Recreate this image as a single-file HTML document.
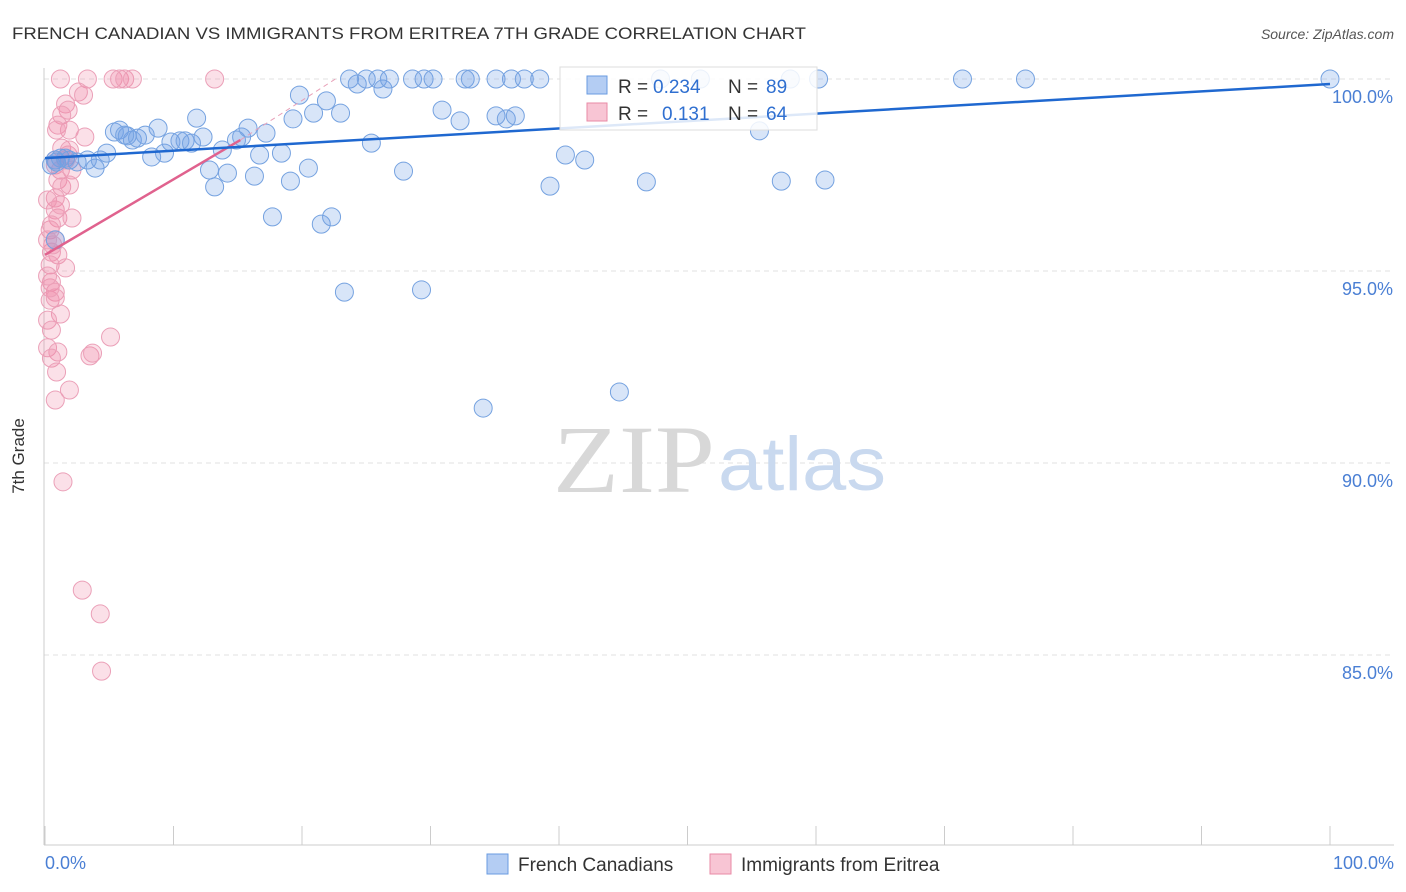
<!DOCTYPE html>
<html><head><meta charset="utf-8"><style>
body{margin:0;background:#fff;font-family:"Liberation Sans",sans-serif;}
svg{display:block}
</style></head><body>
<svg id="chart" width="1406" height="892">
<text x="12" y="39" font-size="17" fill="#333" textLength="794" lengthAdjust="spacingAndGlyphs">FRENCH CANADIAN VS IMMIGRANTS FROM ERITREA 7TH GRADE CORRELATION CHART</text>
<text x="1394" y="39" font-size="14" fill="#555" font-style="italic" text-anchor="end">Source: ZipAtlas.com</text>
<g id="grid"></g>
<g>
<text x="553" y="492" font-size="96" font-family="Liberation Serif,serif" fill="#d8d8d8" textLength="162" lengthAdjust="spacingAndGlyphs">ZIP</text>
<text x="718" y="490" font-size="76" fill="#c9d9ef" textLength="168" lengthAdjust="spacingAndGlyphs">atlas</text>
</g>
<line x1="44" y1="68" x2="44" y2="845" stroke="#ccc"/>
<line x1="44" y1="845" x2="1394" y2="845" stroke="#ccc"/>
<text x="24" y="456" font-size="17" fill="#333" text-anchor="middle" transform="rotate(-90 24 456)">7th Grade</text>
<text x="45" y="869" font-size="18" fill="#4a7fd4">0.0%</text>
<text x="1394" y="869" font-size="18" fill="#4a7fd4" text-anchor="end">100.0%</text>
<g id="marks"></g>
<g>
<rect x="560" y="67" width="257" height="63" fill="#fff" fill-opacity="0.85" stroke="#ddd"/>
<rect x="587" y="76" width="20" height="18" fill="#b4cdf3" stroke="#6a9be0"/>
<text x="618" y="93" font-size="19" fill="#333">R = </text><text x="653" y="93" font-size="19" fill="#2f6fd0">0.234</text>
<text x="728" y="93" font-size="19" fill="#333">N = </text><text x="766" y="93" font-size="19" fill="#2f6fd0">89</text>
<rect x="587" y="103" width="20" height="18" fill="#f8c5d4" stroke="#e88aa6"/>
<text x="618" y="120" font-size="19" fill="#333">R = </text><text x="662" y="120" font-size="19" fill="#2f6fd0">0.131</text>
<text x="728" y="120" font-size="19" fill="#333">N = </text><text x="766" y="120" font-size="19" fill="#2f6fd0">64</text>
</g>
<g>
<rect x="487" y="854" width="21" height="20" fill="#b4cdf3" stroke="#6a9be0"/>
<text x="518" y="871" font-size="19" fill="#333">French Canadians</text>
<rect x="710" y="854" width="21" height="20" fill="#f8c5d4" stroke="#e88aa6"/>
<text x="741" y="871" font-size="19" fill="#333">Immigrants from Eritrea</text>
</g>
</svg>
<script>
const yTicks=[100,95,90,85];
const yTickLabels=["100.0%","95.0%","90.0%","85.0%"];
const xTicks=[0,10,20,30,40,50,60,70,80,90,100];
const blueX=[0.5,0.8,1.2,1.9,2.5,3.3,3.9,4.3,4.8,5.4,5.8,6.4,6.8,7.2,7.8,8.3,8.8,9.3,9.8,10.5,10.9,11.4,11.8,12.3,12.8,13.2,13.8,14.2,14.9,15.3,15.8,16.3,16.7,17.2,17.7,18.4,19.1,19.3,19.8,20.5,20.9,21.5,21.9,22.3,23.0,23.3,23.7,24.3,25.0,25.4,25.9,26.3,26.8,27.9,28.6,29.5,30.2,30.9,32.3,32.7,33.1,34.1,35.1,35.1,35.9,36.3,36.6,37.3,38.5,39.3,40.5,42.0,44.7,46.8,47.9,51.0,55.6,57.3,58.0,60.2,60.7,71.4,76.3,100,29.3,0.8,0.9,1.6,6.2];
const blueY=[97.76,97.89,97.94,97.89,97.84,97.89,97.68,97.89,98.07,98.62,98.67,98.52,98.41,98.46,98.54,97.97,98.72,98.07,98.36,98.39,98.39,98.33,98.98,98.49,97.63,97.19,98.15,97.55,98.41,98.49,98.72,97.47,98.02,98.59,96.41,98.07,97.34,98.96,99.58,97.68,99.11,96.22,99.43,96.41,99.11,94.45,100,99.87,100,98.33,100,99.74,100,97.6,100,100,100,99.19,98.91,100,100,91.43,100,99.04,98.96,100,99.04,100,100,97.21,98.02,97.89,91.85,97.32,100,100,98.65,97.34,100,100,97.37,100,100,100,94.51,95.81,97.84,97.94,98.54];
const pinkX=[1.2,3.3,5.3,5.8,6.2,6.8,13.2,2.6,3.0,1.6,1.8,1.3,1.0,1.9,3.1,0.9,1.3,1.8,0.8,1.2,2.1,1.0,1.3,1.9,0.8,0.8,1.0,2.1,0.4,0.8,0.5,1.0,0.4,1.6,0.5,0.8,0.4,0.8,1.2,0.2,0.5,0.2,1.0,0.5,3.5,3.7,5.1,0.9,1.9,0.8,1.4,2.9,4.3,4.4,0.4,0.2,0.6,1.6,1.9,0.2,0.5,1.2,0.8,0.2];
const pinkY=[100,100,100,100,100,100,100,99.66,99.58,99.35,99.19,99.06,98.8,98.67,98.49,98.67,98.2,98.02,97.76,97.63,97.63,97.37,97.19,97.24,96.9,96.59,96.38,96.38,96.07,95.81,95.49,95.42,95.16,95.08,94.71,94.45,94.24,94.3,93.88,93.72,93.46,93.0,92.89,92.73,92.79,92.86,93.28,92.37,91.9,91.64,89.51,86.69,86.07,84.58,94.56,94.87,95.68,97.89,98.15,96.85,96.2,96.72,97.89,95.81];
const blueTrend=[[0,97.94],[100,99.87]];
const pinkTrend=[[0,95.42],[15.2,98.41]];
const pinkDash=[[15.2,98.41],[22.6,100]];

const NS="http://www.w3.org/2000/svg";
const xs=v=>45+v*12.85;
const ys=v=>79+(100-v)*38.4;
const grid=document.getElementById('grid');
const marks=document.getElementById('marks');
function mk(tag,attrs,parent){const e=document.createElementNS(NS,tag);for(const k in attrs)e.setAttribute(k,attrs[k]);parent.appendChild(e);return e;}
yTicks.forEach((t,i)=>{
  const l=mk('line',{x1:44,x2:1394,y1:ys(t),y2:ys(t),stroke:'#e2e2e2','stroke-dasharray':'5,4'},grid);
  
  
  const tx=mk('text',{x:1393,y:ys(t)+24,'font-size':18,fill:'#4a7fd4','text-anchor':'end'},grid);
  tx.textContent=yTickLabels[i];
  
  
});
xTicks.forEach(t=>{
  const l=mk('line',{x1:xs(t),x2:xs(t),y1:826,y2:845,stroke:'#ccc'},grid);
  
  
});
function pts(X,Y,fill,stroke,name){
  X.forEach((x,i)=>{
    const c=mk('circle',{cx:xs(x),cy:ys(Y[i]),r:9,fill:fill,stroke:stroke,'stroke-width':1},marks);
    
    
  });
}
pts(pinkX,pinkY,'rgba(240,130,165,0.25)','#eba0b8','eritrea-point');
pts(blueX,blueY,'rgba(110,160,230,0.27)','#75a2e0','french-canadian-point');
function line(p,stroke,w,dash,name){
  const l=mk('line',{x1:xs(p[0][0]),y1:ys(p[0][1]),x2:xs(p[1][0]),y2:ys(p[1][1]),stroke:stroke,'stroke-width':w},marks);
  if(dash)l.setAttribute('stroke-dasharray',dash);
  
  
}
line(pinkDash,'#e8a0b8',1,'5,4','eritrea-trend-extension');
line(pinkTrend,'#e0628e',2.5,null,'eritrea-trend-line');
line(blueTrend,'#1f68d0',2.5,null,'french-canadian-trend-line');
</script>
</body></html>
